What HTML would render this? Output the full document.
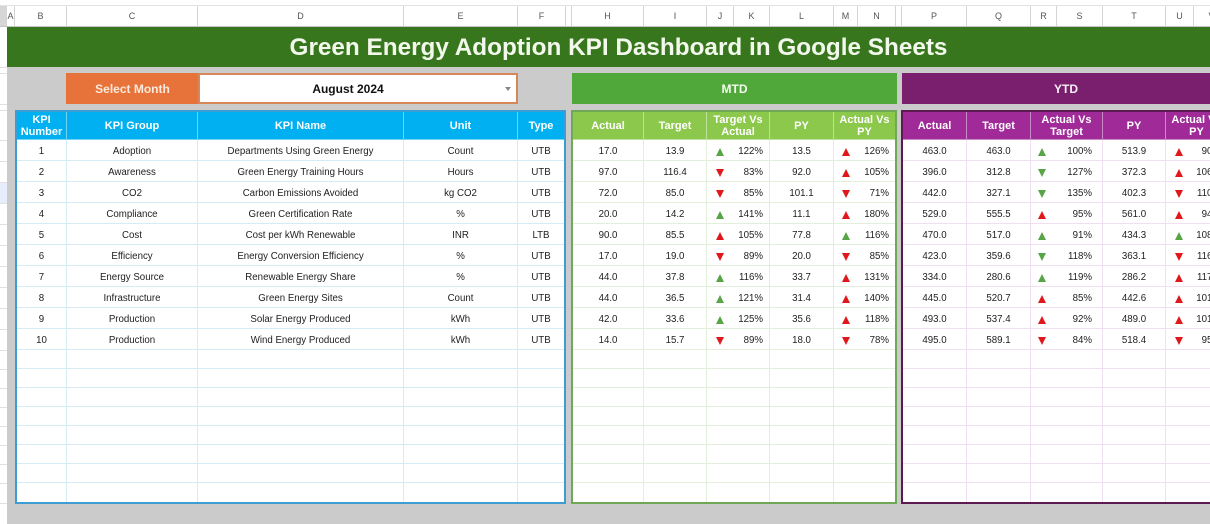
<!DOCTYPE html>
<html><head><meta charset="utf-8">
<style>
*{box-sizing:border-box;margin:0;padding:0}
html,body{width:1210px;height:524px;overflow:hidden;background:#fff;font-family:"Liberation Sans",Arial,sans-serif;position:relative}
.a{position:absolute}
#colhdr{position:absolute;left:0;top:5px;height:22px;display:flex;border-top:1px solid #e3e3e3;border-bottom:1px solid #c4c4c4;background:#fff}
#colhdr>div{flex:none;height:100%;border-right:1px solid #d4d4d4;font-size:9px;color:#555;display:flex;align-items:center;justify-content:center}
#gray{left:7px;top:27px;width:1203px;height:497px;background:#cbcbcb}
#title{left:7px;top:27px;width:1223px;height:40px;background:#38761d;color:#f2f8ec;font-weight:bold;font-size:24.3px;display:flex;align-items:center;justify-content:center;padding-top:1px}
.ln{position:absolute;left:0;width:7px;height:1px;background:#e0e0e0}
.p{position:absolute;top:110px;height:394px;border:2px solid;overflow:hidden;background:#fff}
.r{display:flex;height:21px}
.r.e{height:19px}
.r.h{height:28px}
.r>div{flex:none;height:100%;display:flex;align-items:center;justify-content:center;border-right:1px solid var(--gl);border-bottom:1px solid var(--gl);font-size:9.7px;color:#1e1e1e;white-space:nowrap;overflow:hidden;padding-top:3px}
.r>div:last-child{border-right:none}
.r.e:last-child>div{border-bottom:none}
.r.h>div{font-weight:bold;font-size:11px;color:#fff;text-align:center;line-height:11.5px;border-color:rgba(255,255,255,.45);background:var(--hb);white-space:normal;padding-top:2px}
.pb{left:15px;width:551px;border-color:#3d9cd2;--gl:#d4ecf5;--hb:#00b0f0}
.pb .r>div:nth-child(1){width:50px}.pb .r>div:nth-child(2){width:131px}.pb .r>div:nth-child(3){width:206px}.pb .r>div:nth-child(4){width:114px}.pb .r>div:nth-child(5){width:46px}
.pg{left:571px;width:326px;border-color:#70a955;--gl:#e3eedb;--hb:#8cc84b}
.pg .r>div:nth-child(1){width:71px}.pg .r>div:nth-child(2){width:63px}.pg .r>div:nth-child(3){width:63px}.pg .r>div:nth-child(4){width:64px}.pg .r>div:nth-child(5){width:61px}
.pp{left:901px;width:328px;border-color:#5c1a50;--gl:#f0dff0;--hb:#9f2a98}
.pp .r>div:nth-child(1){width:64px}.pp .r>div:nth-child(2){width:64px}.pp .r>div:nth-child(3){width:72px}.pp .r>div:nth-child(4){width:63px}.pp .r>div:nth-child(5){width:61px}
.r>div.k{justify-content:space-between;padding:3px 6px 0 9px}
.pg .r>div.k:nth-child(5){padding:3px 6px 0 8px}
.pp .r>div.k:nth-child(3){padding:3px 10px 0 7px}
.pp .r>div.k:nth-child(5){padding:3px 6px 0 9px}
.t{display:inline-block;width:0;height:0;border-left:4.5px solid transparent;border-right:4.5px solid transparent}
.u{border-bottom:8px solid}
.d{border-top:8px solid}
.g{color:#58a547}
.x{color:#e0181c}
</style></head><body>

<div id="colhdr">
<div style="width:7px;background:#d6d6d6"></div>
<div style="width:8px">A</div><div style="width:52px">B</div><div style="width:131px">C</div><div style="width:206px">D</div><div style="width:114px">E</div><div style="width:48px">F</div><div style="width:6px"></div><div style="width:72px">H</div><div style="width:63px">I</div><div style="width:27px">J</div><div style="width:36px">K</div><div style="width:64px">L</div><div style="width:24px">M</div><div style="width:38px">N</div><div style="width:6px"></div><div style="width:65px">P</div><div style="width:64px">Q</div><div style="width:26px">R</div><div style="width:46px">S</div><div style="width:63px">T</div><div style="width:28px">U</div><div style="width:36px">V</div>
</div>

<div class="ln" style="top:67px"></div><div class="ln" style="top:73px"></div><div class="ln" style="top:104px"></div><div class="ln" style="top:110px"></div><div class="ln" style="top:140px"></div><div class="ln" style="top:161px"></div>
<div class="a" style="left:0;top:182px;width:7px;height:21px;background:#e6eefb"></div>
<div class="ln" style="top:182px"></div><div class="ln" style="top:203px"></div><div class="ln" style="top:224px"></div><div class="ln" style="top:245px"></div><div class="ln" style="top:266px"></div><div class="ln" style="top:287px"></div><div class="ln" style="top:308px"></div><div class="ln" style="top:329px"></div><div class="ln" style="top:350px"></div><div class="ln" style="top:369px"></div><div class="ln" style="top:388px"></div><div class="ln" style="top:407px"></div><div class="ln" style="top:426px"></div><div class="ln" style="top:445px"></div><div class="ln" style="top:464px"></div><div class="ln" style="top:483px"></div><div class="ln" style="top:503px"></div>

<div id="gray" class="a"></div>
<div id="title" class="a">Green Energy Adoption KPI Dashboard in Google Sheets</div>

<div class="a" style="left:66px;top:73px;width:133px;height:31px;background:#e8733a;color:#fbe9dd;font-weight:bold;font-size:12px;display:flex;align-items:center;justify-content:center">Select Month</div>
<div class="a" style="left:198px;top:73px;width:320px;height:31px;background:#fff;border:2px solid #d8875a;color:#111;font-weight:bold;font-size:12px;display:flex;align-items:center;justify-content:center;padding-right:20px">August 2024</div>
<div class="a" style="left:505px;top:87px;width:0;height:0;border-left:3.5px solid transparent;border-right:3.5px solid transparent;border-top:4px solid #888"></div>

<div class="a" style="left:572px;top:73px;width:325px;height:31px;background:#50a83a;color:#f4fbef;font-weight:bold;font-size:12px;display:flex;align-items:center;justify-content:center">MTD</div>
<div class="a" style="left:902px;top:73px;width:328px;height:31px;background:#7a1f6e;color:#f7eef6;font-weight:bold;font-size:12px;display:flex;align-items:center;justify-content:center">YTD</div>

<div class="p pb">
<div class="r h"><div>KPI<br>Number</div><div>KPI Group</div><div>KPI Name</div><div>Unit</div><div>Type</div></div>
<div class="r"><div>1</div><div>Adoption</div><div>Departments Using Green Energy</div><div>Count</div><div>UTB</div></div>
<div class="r"><div>2</div><div>Awareness</div><div>Green Energy Training Hours</div><div>Hours</div><div>UTB</div></div>
<div class="r"><div>3</div><div>CO2</div><div>Carbon Emissions Avoided</div><div>kg CO2</div><div>UTB</div></div>
<div class="r"><div>4</div><div>Compliance</div><div>Green Certification Rate</div><div>%</div><div>UTB</div></div>
<div class="r"><div>5</div><div>Cost</div><div>Cost per kWh Renewable</div><div>INR</div><div>LTB</div></div>
<div class="r"><div>6</div><div>Efficiency</div><div>Energy Conversion Efficiency</div><div>%</div><div>UTB</div></div>
<div class="r"><div>7</div><div>Energy Source</div><div>Renewable Energy Share</div><div>%</div><div>UTB</div></div>
<div class="r"><div>8</div><div>Infrastructure</div><div>Green Energy Sites</div><div>Count</div><div>UTB</div></div>
<div class="r"><div>9</div><div>Production</div><div>Solar Energy Produced</div><div>kWh</div><div>UTB</div></div>
<div class="r"><div>10</div><div>Production</div><div>Wind Energy Produced</div><div>kWh</div><div>UTB</div></div>
<div class="r e"><div></div><div></div><div></div><div></div><div></div></div>
<div class="r e"><div></div><div></div><div></div><div></div><div></div></div>
<div class="r e"><div></div><div></div><div></div><div></div><div></div></div>
<div class="r e"><div></div><div></div><div></div><div></div><div></div></div>
<div class="r e"><div></div><div></div><div></div><div></div><div></div></div>
<div class="r e"><div></div><div></div><div></div><div></div><div></div></div>
<div class="r e"><div></div><div></div><div></div><div></div><div></div></div>
<div class="r e"><div></div><div></div><div></div><div></div><div></div></div>
</div>

<div class="p pg">
<div class="r h"><div>Actual</div><div>Target</div><div>Target Vs Actual</div><div>PY</div><div>Actual Vs PY</div></div>
<div class="r"><div>17.0</div><div>13.9</div><div class="k"><i class="t u g"></i><span>122%</span></div><div>13.5</div><div class="k"><i class="t u x"></i><span>126%</span></div></div>
<div class="r"><div>97.0</div><div>116.4</div><div class="k"><i class="t d x"></i><span>83%</span></div><div>92.0</div><div class="k"><i class="t u x"></i><span>105%</span></div></div>
<div class="r"><div>72.0</div><div>85.0</div><div class="k"><i class="t d x"></i><span>85%</span></div><div>101.1</div><div class="k"><i class="t d x"></i><span>71%</span></div></div>
<div class="r"><div>20.0</div><div>14.2</div><div class="k"><i class="t u g"></i><span>141%</span></div><div>11.1</div><div class="k"><i class="t u x"></i><span>180%</span></div></div>
<div class="r"><div>90.0</div><div>85.5</div><div class="k"><i class="t u x"></i><span>105%</span></div><div>77.8</div><div class="k"><i class="t u g"></i><span>116%</span></div></div>
<div class="r"><div>17.0</div><div>19.0</div><div class="k"><i class="t d x"></i><span>89%</span></div><div>20.0</div><div class="k"><i class="t d x"></i><span>85%</span></div></div>
<div class="r"><div>44.0</div><div>37.8</div><div class="k"><i class="t u g"></i><span>116%</span></div><div>33.7</div><div class="k"><i class="t u x"></i><span>131%</span></div></div>
<div class="r"><div>44.0</div><div>36.5</div><div class="k"><i class="t u g"></i><span>121%</span></div><div>31.4</div><div class="k"><i class="t u x"></i><span>140%</span></div></div>
<div class="r"><div>42.0</div><div>33.6</div><div class="k"><i class="t u g"></i><span>125%</span></div><div>35.6</div><div class="k"><i class="t u x"></i><span>118%</span></div></div>
<div class="r"><div>14.0</div><div>15.7</div><div class="k"><i class="t d x"></i><span>89%</span></div><div>18.0</div><div class="k"><i class="t d x"></i><span>78%</span></div></div>
<div class="r e"><div></div><div></div><div></div><div></div><div></div></div>
<div class="r e"><div></div><div></div><div></div><div></div><div></div></div>
<div class="r e"><div></div><div></div><div></div><div></div><div></div></div>
<div class="r e"><div></div><div></div><div></div><div></div><div></div></div>
<div class="r e"><div></div><div></div><div></div><div></div><div></div></div>
<div class="r e"><div></div><div></div><div></div><div></div><div></div></div>
<div class="r e"><div></div><div></div><div></div><div></div><div></div></div>
<div class="r e"><div></div><div></div><div></div><div></div><div></div></div>
</div>

<div class="p pp">
<div class="r h"><div>Actual</div><div>Target</div><div>Actual Vs Target</div><div>PY</div><div>Actual Vs PY</div></div>
<div class="r"><div>463.0</div><div>463.0</div><div class="k"><i class="t u g"></i><span>100%</span></div><div>513.9</div><div class="k"><i class="t u x"></i><span>90%</span></div></div>
<div class="r"><div>396.0</div><div>312.8</div><div class="k"><i class="t d g"></i><span>127%</span></div><div>372.3</div><div class="k"><i class="t u x"></i><span>106%</span></div></div>
<div class="r"><div>442.0</div><div>327.1</div><div class="k"><i class="t d g"></i><span>135%</span></div><div>402.3</div><div class="k"><i class="t d x"></i><span>110%</span></div></div>
<div class="r"><div>529.0</div><div>555.5</div><div class="k"><i class="t u x"></i><span>95%</span></div><div>561.0</div><div class="k"><i class="t u x"></i><span>94%</span></div></div>
<div class="r"><div>470.0</div><div>517.0</div><div class="k"><i class="t u g"></i><span>91%</span></div><div>434.3</div><div class="k"><i class="t u g"></i><span>108%</span></div></div>
<div class="r"><div>423.0</div><div>359.6</div><div class="k"><i class="t d g"></i><span>118%</span></div><div>363.1</div><div class="k"><i class="t d x"></i><span>116%</span></div></div>
<div class="r"><div>334.0</div><div>280.6</div><div class="k"><i class="t u g"></i><span>119%</span></div><div>286.2</div><div class="k"><i class="t u x"></i><span>117%</span></div></div>
<div class="r"><div>445.0</div><div>520.7</div><div class="k"><i class="t u x"></i><span>85%</span></div><div>442.6</div><div class="k"><i class="t u x"></i><span>101%</span></div></div>
<div class="r"><div>493.0</div><div>537.4</div><div class="k"><i class="t u x"></i><span>92%</span></div><div>489.0</div><div class="k"><i class="t u x"></i><span>101%</span></div></div>
<div class="r"><div>495.0</div><div>589.1</div><div class="k"><i class="t d x"></i><span>84%</span></div><div>518.4</div><div class="k"><i class="t d x"></i><span>95%</span></div></div>
<div class="r e"><div></div><div></div><div></div><div></div><div></div></div>
<div class="r e"><div></div><div></div><div></div><div></div><div></div></div>
<div class="r e"><div></div><div></div><div></div><div></div><div></div></div>
<div class="r e"><div></div><div></div><div></div><div></div><div></div></div>
<div class="r e"><div></div><div></div><div></div><div></div><div></div></div>
<div class="r e"><div></div><div></div><div></div><div></div><div></div></div>
<div class="r e"><div></div><div></div><div></div><div></div><div></div></div>
<div class="r e"><div></div><div></div><div></div><div></div><div></div></div>
</div>

</body></html>
